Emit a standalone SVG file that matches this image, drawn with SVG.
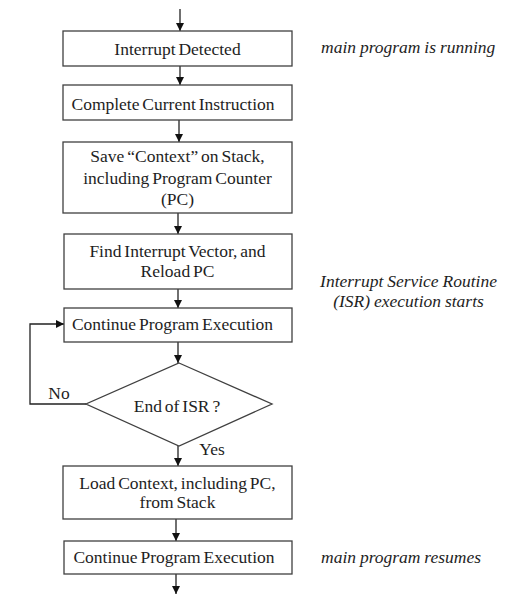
<svg xmlns="http://www.w3.org/2000/svg" width="508" height="603" viewBox="0 0 508 603">
<style>
.box{fill:#fff;stroke:#404040;stroke-width:1.3}
.t{font-family:"Liberation Serif","Times New Roman",serif;font-size:17.5px;fill:#1e1e1e;text-anchor:middle;word-spacing:-1.5px}
.n{font-family:"Liberation Serif","Times New Roman",serif;font-size:17.5px;fill:#1e1e1e;font-style:italic;word-spacing:-0.5px}
.c{fill:none;stroke:#222;stroke-width:1.3}
</style>
<defs>
<marker id="ah" viewBox="0 0 10 10" refX="10" refY="5" markerWidth="8" markerHeight="8" markerUnits="userSpaceOnUse" orient="auto">
<path d="M0,0 L10,5 L0,10 Z" fill="#111"/>
</marker>
</defs>
<rect width="508" height="603" fill="#fff"/>
<g id="connectors">
<line class="c" x1="180" y1="9" x2="180" y2="31" marker-end="url(#ah)"/>
<line class="c" x1="180" y1="66" x2="180" y2="85" marker-end="url(#ah)"/>
<line class="c" x1="179" y1="120" x2="179" y2="142" marker-end="url(#ah)"/>
<line class="c" x1="178" y1="213" x2="178" y2="234" marker-end="url(#ah)"/>
<line class="c" x1="178" y1="289" x2="178" y2="308" marker-end="url(#ah)"/>
<line class="c" x1="178" y1="342" x2="178" y2="363" marker-end="url(#ah)"/>
<line class="c" x1="178" y1="446" x2="178" y2="466" marker-end="url(#ah)"/>
<line class="c" x1="176" y1="519" x2="176" y2="541" marker-end="url(#ah)"/>
<line class="c" x1="176" y1="574" x2="176" y2="594" marker-end="url(#ah)"/>
<polyline class="c" points="86,404 30,404 30,324 64,324" marker-end="url(#ah)"/>
</g>
<g id="n1">
<rect class="box" x="63" y="31" width="229" height="35"/>
<text class="t" x="177.5" y="55">Interrupt Detected</text>
</g>
<g id="n2">
<rect class="box" x="63" y="85" width="229" height="35"/>
<text class="t" x="173" y="110">Complete Current Instruction</text>
</g>
<g id="n3">
<rect class="box" x="63" y="142" width="229" height="71"/>
<text class="t" x="177.5" y="162">Save “Context” on Stack,</text>
<text class="t" x="177.5" y="184">including Program Counter</text>
<text class="t" x="177.5" y="205">(PC)</text>
</g>
<g id="n4">
<rect class="box" x="64" y="234" width="228" height="55"/>
<text class="t" x="177.5" y="257">Find Interrupt Vector, and</text>
<text class="t" x="177.5" y="277">Reload PC</text>
</g>
<g id="n5">
<rect class="box" x="64" y="308" width="228" height="34"/>
<text class="t" x="172.5" y="330">Continue Program Execution</text>
</g>
<g id="n6">
<polygon class="box" points="179,363 272,404 179,446 86,404"/>
<text class="t" x="177" y="412">End of ISR ?</text>
</g>
<g id="n7">
<rect class="box" x="63" y="466" width="229" height="53"/>
<text class="t" x="177.5" y="489">Load Context, including PC,</text>
<text class="t" x="177.5" y="508">from Stack</text>
</g>
<g id="n8">
<rect class="box" x="64" y="541" width="228" height="33"/>
<text class="t" x="174" y="563">Continue Program Execution</text>
</g>
<g id="labels">
<text class="t" x="59" y="399">No</text>
<text class="t" x="212" y="455">Yes</text>
<text class="n" x="321" y="53">main program is running</text>
<text class="n" x="408.5" y="287" text-anchor="middle">Interrupt Service Routine</text>
<text class="n" x="408.5" y="307" text-anchor="middle">(ISR) execution starts</text>
<text class="n" x="321" y="563">main program resumes</text>
</g>
</svg>
